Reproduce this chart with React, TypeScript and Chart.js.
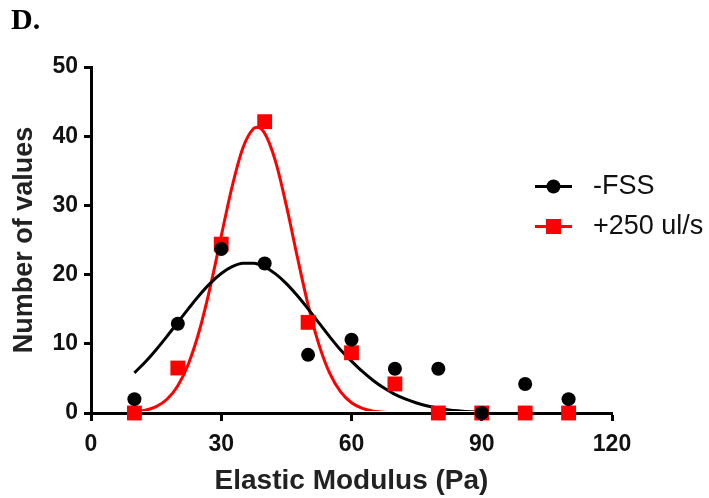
import React, { useEffect, useRef } from 'react';
import { Chart, registerables } from 'chart.js';

Chart.register(...registerables);

// Histogram bins (Elastic Modulus, Pa)
const binX = [10, 20, 30, 40, 50, 60, 70, 80, 90, 100, 110];
// Number of values, -FSS
const fssCounts = [2.0, 12.9, 23.7, 21.6, 8.4, 10.6, 6.4, 6.4, 0, 4.2, 2.0];
// Number of values, +250 ul/s
const flowCounts = [0, 6.5, 24.4, 42.1, 13.1, 8.7, 4.2, 0, 0, 0, 0];

// Gaussian fit curve for -FSS
const fssFitX = [10, 12.5, 15, 17.5, 20, 22.5, 25, 27.5, 30, 32.5, 35, 37.5, 40, 42.5, 45, 47.5, 50, 52.5, 55, 57.5, 60, 62.5, 65, 67.5, 70, 72.5, 75, 77.5, 80, 82.5, 85, 87.5, 90, 92.5, 95, 97.5, 100, 102.5, 105, 107.5, 110];
const fssFitY = [5.8, 7.37, 9.15, 11.08, 13.1, 15.12, 17.05, 18.76, 20.15, 21.14, 21.64, 21.63, 21.11, 20.1, 18.7, 16.97, 15.05, 13.02, 11.0, 9.1, 7.5, 6.0, 4.7, 3.6, 2.7, 2.0, 1.45, 1.0, 0.7, 0.45, 0.3, 0.18, 0.1, 0.06, 0.03, 0.01, 0, 0, 0, 0, 0];

// Gaussian fit curve for +250 ul/s
const flowFitX = [10, 12.5, 15, 17.5, 20, 22.5, 25, 27.5, 30, 32.5, 35, 37.5, 38.25, 40, 42.5, 45, 47.5, 50, 52.5, 55, 57.5, 60, 62.5, 65, 67.5, 70, 72.5, 75, 80, 85, 90, 95, 100, 105, 110];
const flowFitY = [0.15, 0.39, 0.92, 1.99, 3.95, 7.2, 11.99, 18.3, 25.57, 32.72, 38.34, 41.14, 41.3, 40.42, 36.37, 29.96, 22.61, 15.62, 9.88, 5.72, 3.04, 1.48, 0.66, 0.27, 0.1, 0.04, 0, 0, 0, 0, 0, 0, 0, 0, 0];

const xTicks = [0, 30, 60, 90, 120];
const yTicks = [0, 10, 20, 30, 40, 50];

const FONT = '"Liberation Sans", Arial, Helvetica, sans-serif';

const legendPlugin = {
  id: 'lineMarkerLegend',
  afterDraw(chart: any) {
    const ctx = chart.ctx;
    const rows = [186.5, 226.5];
    ctx.save();
    [0, 1].forEach((idx, i) => {
      const ds = chart.data.datasets[idx];
      const y = rows[i];
      ctx.strokeStyle = ds.borderColor;
      ctx.lineWidth = 3;
      ctx.beginPath();
      ctx.moveTo(535, y);
      ctx.lineTo(572, y);
      ctx.stroke();
      ctx.fillStyle = ds.backgroundColor;
      if (ds.pointStyle === 'rect') {
        ctx.fillRect(553.5 - 7.5, y - 7.5, 15, 15);
      } else {
        ctx.beginPath();
        ctx.arc(553.5, y, 7, 0, Math.PI * 2);
        ctx.fill();
      }
      ctx.fillStyle = '#111';
      ctx.font = `27px ${FONT}`;
      ctx.textBaseline = 'middle';
      ctx.textAlign = 'left';
      ctx.fillText(ds.label, 593, y);
    });
    ctx.restore();
  },
};

export default function App() {
  const canvasRef = useRef<HTMLCanvasElement | null>(null);

  useEffect(() => {
    if (!canvasRef.current) return;
    const curveClip = { left: 5, right: 5, top: 5, bottom: -2 };
    const chart = new Chart(canvasRef.current, {
      type: 'line',
      data: {
        datasets: [
          {
            label: '-FSS',
            data: binX.map((x, i) => ({ x, y: fssCounts[i] })),
            showLine: false,
            pointStyle: 'circle',
            pointRadius: 7,
            pointBorderWidth: 0,
            borderColor: '#000000',
            backgroundColor: '#000000',
            pointBackgroundColor: '#000000',
            clip: false,
          } as any,
          {
            label: '+250 ul/s',
            data: binX.map((x, i) => ({ x, y: flowCounts[i] })),
            showLine: false,
            pointStyle: 'rect',
            pointRadius: 10.5,
            pointBorderWidth: 0,
            borderColor: '#ff0000',
            backgroundColor: '#ff0000',
            pointBackgroundColor: '#ff0000',
            clip: false,
          } as any,
          {
            label: 'fit -FSS',
            data: fssFitX.map((x, i) => ({ x, y: fssFitY[i] })),
            borderColor: '#000000',
            borderWidth: 3,
            pointRadius: 0,
            fill: false,
            cubicInterpolationMode: 'monotone',
            clip: curveClip,
          } as any,
          {
            label: 'fit +250 ul/s',
            data: flowFitX.map((x, i) => ({ x, y: flowFitY[i] })),
            borderColor: '#ff0000',
            borderWidth: 3,
            pointRadius: 0,
            fill: false,
            cubicInterpolationMode: 'monotone',
            clip: curveClip,
          } as any,
        ],
      },
      options: {
        animation: false,
        responsive: false,
        maintainAspectRatio: false,
        layout: { padding: { left: 0, right: 97, top: 67, bottom: 0 } },
        plugins: {
          legend: { display: false },
          tooltip: { enabled: false },
        },
        scales: {
          x: {
            type: 'linear',
            min: xTicks[0],
            max: xTicks[xTicks.length - 1],
            afterBuildTicks: (s: any) => {
              s.ticks = xTicks.map((v) => ({ value: v }));
            },
            ticks: {
              font: { family: FONT, size: 23, weight: 'bold' },
              color: '#111',
              padding: 10,
              maxRotation: 0,
            },
            grid: {
              drawOnChartArea: false,
              drawTicks: true,
              tickLength: 8,
              tickWidth: 3,
              tickColor: '#000',
            },
            border: { display: true, color: '#000', width: 3 },
            title: {
              display: true,
              text: 'Elastic Modulus (Pa)',
              font: { family: FONT, size: 28, weight: 'bold' },
              color: '#222',
              padding: { top: 0, bottom: 0 },
            },
            afterFit: (s: any) => {
              s.height = 85;
            },
          },
          y: {
            type: 'linear',
            min: yTicks[0],
            max: yTicks[yTicks.length - 1],
            afterBuildTicks: (s: any) => {
              s.ticks = yTicks.map((v) => ({ value: v }));
            },
            ticks: {
              font: { family: FONT, size: 23, weight: 'bold' },
              color: '#111',
              padding: 6,
            },
            grid: {
              drawOnChartArea: false,
              drawTicks: true,
              tickLength: 7,
              tickWidth: 3,
              tickColor: '#000',
            },
            border: { display: true, color: '#000', width: 3 },
            title: {
              display: true,
              text: 'Number of values',
              font: { family: FONT, size: 27, weight: 'bold' },
              color: '#222',
              padding: { top: 8, bottom: 0 },
            },
            afterFit: (s: any) => {
              s.width = 91;
            },
          },
        },
      } as any,
      plugins: [legendPlugin],
    });
    return () => chart.destroy();
  }, []);

  return (
    <div style={{ position: 'absolute', left: 0, top: 0, width: 709, height: 498, background: '#fff' }}>
      <canvas ref={canvasRef} width={709} height={498} style={{ display: 'block' }} />
      <div
        style={{
          position: 'absolute',
          left: 11,
          top: 4,
          font: 'bold 30px "Liberation Serif", "Times New Roman", serif',
          lineHeight: '30px',
          color: '#000',
        }}
      >
        D.
      </div>
    </div>
  );
}
